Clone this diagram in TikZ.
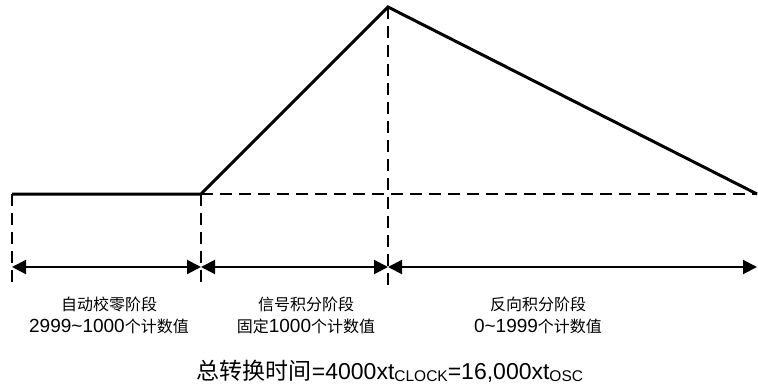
\documentclass[tikz,border=0pt]{standalone}
\usepackage{fontspec}
\setmainfont{Liberation Sans}
\newfontfamily\cjk{Noto Sans CJK SC}
\usetikzlibrary{arrows.meta}
\newcommand{\cjkbig}{\cjk\fontsize{16}{18}\selectfont}
\newcommand{\cjksmall}{\cjk\fontsize{16}{18}\selectfont}
\newcommand{\latbig}{\fontsize{19}{22}\selectfont}
\begin{document}
\begin{tikzpicture}[x=1pt,y=-1pt,
  sig/.style={line width=3pt,line join=miter},
  guide/.style={line width=2pt,dash pattern=on 12pt off 7pt},
  dim/.style={line width=2pt,{Triangle[length=14pt,width=14pt]}-{Triangle[length=14pt,width=14pt]}},
  lbl/.style={inner sep=0pt,anchor=base}]
\useasboundingbox (0,0) rectangle (758,391);
\coordinate (s) at (12,194);
\coordinate (r) at (201,194);
\coordinate (p) at (388,7);
\coordinate (e) at (757,194);
\coordinate (sb) at (12,289);
\coordinate (rb) at (201,289);
\coordinate (pb) at (388,289);
\coordinate (sa) at (12,267);
\coordinate (ra) at (201,267);
\coordinate (pa) at (388,267);
\coordinate (ea) at (757,267);
\draw[guide] (r) -- (e);
\draw[guide] (s) -- (sb);
\draw[guide] (r) -- (rb);
\draw[guide] (p) -- (pb);
\draw[sig] (s) -- (r) -- (p) -- (e);
\draw[dim] (sa) -- (ra);
\draw[dim] (ra) -- (pa);
\draw[dim] (pa) -- (ea);
\node[lbl] (t1a) at (109,310) {\cjkbig 自动校零阶段};
\node[lbl] (t1b) at (109,332) {\latbig 2999\textasciitilde1000{\cjksmall 个计数值}};
\node[lbl] (t2a) at (306,310) {\cjkbig 信号积分阶段};
\node[lbl] (t2b) at (306,332) {{\cjksmall 固定}\latbig 1000{\cjksmall 个计数值}};
\node[lbl] (t3a) at (538,310) {\cjkbig 反向积分阶段};
\node[lbl] (t3b) at (538,332) {\latbig 0\textasciitilde1999{\cjksmall 个计数值}};
\node[lbl,font=\fontsize{23}{26}\selectfont] (tot) at (390,379) {{\cjk 总转换时间}=4000xt\raisebox{-0.2ex}{\fontsize{15.5}{18}\selectfont CLOCK}=16,000xt\raisebox{-0.2ex}{\fontsize{15.5}{18}\selectfont OSC}};
\end{tikzpicture}
\end{document}
